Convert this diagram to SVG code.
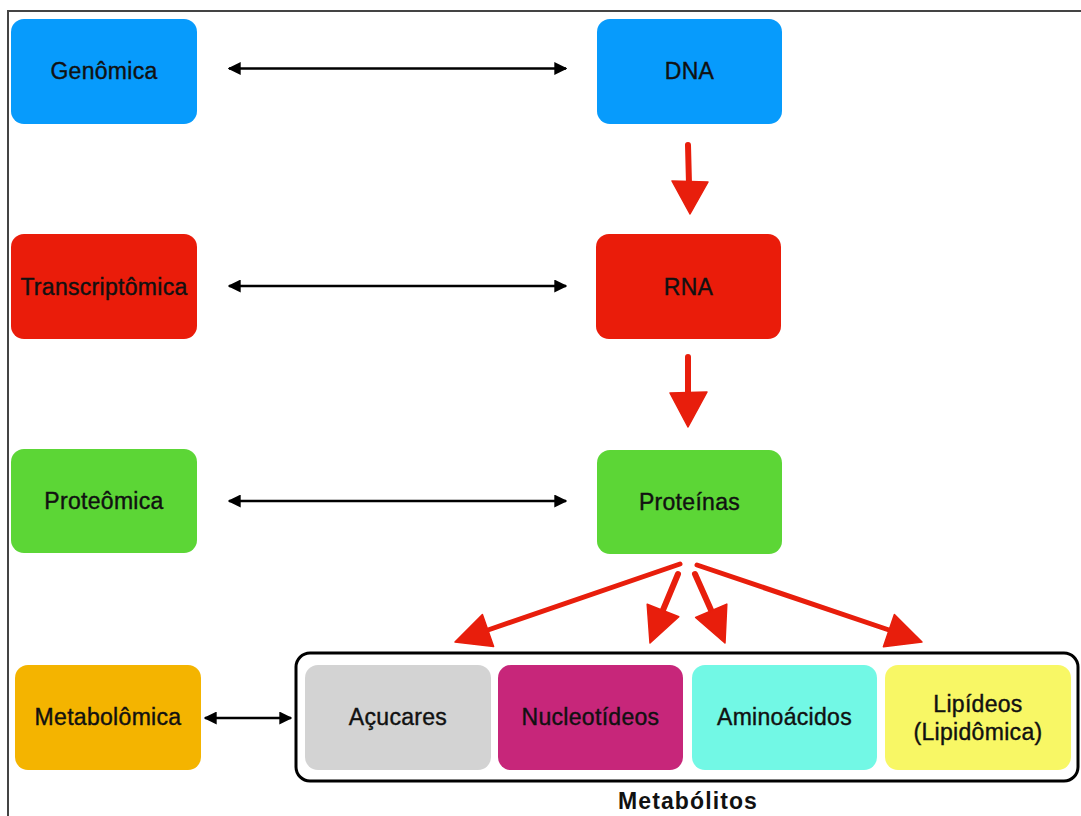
<svg xmlns="http://www.w3.org/2000/svg" width="1081" height="816" viewBox="0 0 1081 816">
<style>
.lbl{font-family:"Liberation Sans",Arial,sans-serif;font-size:23px;fill:#111;stroke:#111;stroke-width:0.4px;text-anchor:middle;letter-spacing:0.3px}
.ttl{font-family:"Liberation Sans",Arial,sans-serif;font-size:23px;font-weight:bold;fill:#111;text-anchor:middle;letter-spacing:1.1px}
.blk{stroke:#000;stroke-width:2.6;fill:none}
.red{stroke:#E81E0C;stroke-width:6;stroke-linecap:round;fill:none}
.redh{fill:#E81E0C;stroke:#E81E0C;stroke-width:1.5;stroke-linejoin:round}
</style>
<defs>
<marker id="ah" viewBox="0 0 10 10" refX="9" refY="5" markerWidth="5" markerHeight="5" orient="auto-start-reverse" markerUnits="strokeWidth">
<path d="M0,0 L10,5 L0,10 z" fill="#000"/>
</marker>
</defs>
<rect width="1081" height="816" fill="#fff"/>
<path d="M8,816 V11 H1081" fill="none" stroke="#444" stroke-width="2"/>

<g id="genomica"><rect x="11" y="19" width="186" height="105" rx="13" fill="#079BFC"/><text class="lbl" x="104" y="79">Genômica</text></g>
<g id="dna"><rect x="597" y="19" width="185" height="105" rx="13" fill="#079BFC"/><text class="lbl" x="689.5" y="79">DNA</text></g>
<g id="transcriptomica"><rect x="11" y="234" width="186" height="105" rx="13" fill="#EA1C0A"/><text class="lbl" x="104" y="295">Transcriptômica</text></g>
<g id="rna"><rect x="596" y="234" width="185" height="105" rx="13" fill="#EA1C0A"/><text class="lbl" x="688.5" y="295">RNA</text></g>
<g id="proteomica"><rect x="11" y="449" width="186" height="104" rx="13" fill="#5CD636"/><text class="lbl" x="104" y="509">Proteômica</text></g>
<g id="proteinas"><rect x="597" y="450" width="185" height="104" rx="13" fill="#5CD636"/><text class="lbl" x="689.5" y="510">Proteínas</text></g>
<g id="metabolomica"><rect x="15" y="665" width="186" height="105" rx="13" fill="#F4B400"/><text class="lbl" x="108" y="725">Metabolômica</text></g>
<g id="metabolitos"><rect x="296" y="653" width="782" height="128" rx="14" fill="#fff" stroke="#000" stroke-width="3"/><text class="ttl" x="688" y="809">Metabólitos</text></g>
<g id="acucares"><rect x="305" y="665" width="186" height="105" rx="13" fill="#D3D3D3"/><text class="lbl" x="398" y="725">Açucares</text></g>
<g id="nucleotideos"><rect x="498" y="665" width="185" height="105" rx="13" fill="#C7267A"/><text class="lbl" x="590.5" y="725">Nucleotídeos</text></g>
<g id="aminoacidos"><rect x="692" y="665" width="185" height="105" rx="13" fill="#72F8E5"/><text class="lbl" x="784.5" y="725">Aminoácidos</text></g>
<g id="lipideos"><rect x="885" y="665" width="186" height="105" rx="13" fill="#F8F765"/><text class="lbl" x="978" y="712">Lipídeos</text><text class="lbl" x="978" y="740">(Lipidômica)</text></g>

<g id="connectors">
<line class="blk" x1="229" y1="68.5" x2="566" y2="68.5" marker-start="url(#ah)" marker-end="url(#ah)"/>
<line class="blk" x1="229" y1="286" x2="566" y2="286" marker-start="url(#ah)" marker-end="url(#ah)"/>
<line class="blk" x1="229" y1="501" x2="566" y2="501" marker-start="url(#ah)" marker-end="url(#ah)"/>
<line class="blk" x1="205" y1="718" x2="291" y2="718" marker-start="url(#ah)" marker-end="url(#ah)"/>

<path class="red" d="M688,145 L689,184"/>
<polygon class="redh" points="672,181 708,182 690,214"/>
<path class="red" d="M688,357 L688,395"/>
<polygon class="redh" points="670,393 707,392 688,427"/>

<path class="red" style="stroke-width:5" d="M680,564 L488,630"/>
<polygon class="redh" points="455,642 482.4,614.5 493.6,646.5"/>
<path class="red" style="stroke-width:6" d="M678,574 L663,610"/>
<polygon class="redh" points="650,643 647.2,604.2 678.8,616.8"/>
<path class="red" style="stroke-width:6" d="M695,574 L711,610"/>
<polygon class="redh" points="725,643 695.6,617.5 726.8,604.1"/>
<path class="red" style="stroke-width:5" d="M697,565 L889,630"/>
<polygon class="redh" points="922,642 894.4,614.6 883.4,646.8"/>
</g>
</svg>
